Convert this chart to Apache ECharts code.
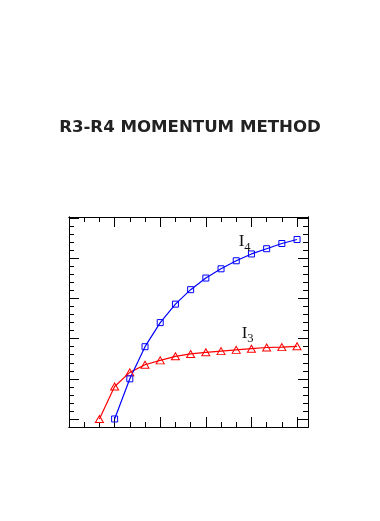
<!DOCTYPE html>
<html><head><meta charset="utf-8">
<script src="https://cdn.jsdelivr.net/npm/echarts@6/dist/echarts.min.js"></script>
<style>html,body{margin:0;padding:0;background:#fff}#c{width:380px;height:521px}</style>
</head><body><div id="c"></div>
<script>
const titleText = 'R3-R4 MOMENTUM METHOD';
const xI3 = [2,3,4,5,6,7,8,9,10,11,12,13,14,15];
const yI3 = [0,0.81,1.16,1.35,1.46,1.56,1.62,1.66,1.69,1.72,1.75,1.78,1.79,1.81];
const xI4 = [3,4,5,6,7,8,9,10,11,12,13,14,15];
const yI4 = [0,1.0,1.80,2.40,2.86,3.22,3.51,3.74,3.94,4.11,4.24,4.37,4.47];
const xMajor = [0,3,6,9,12,15];
const xMinor = [1,2,4,5,7,8,10,11,13,14];
const yMajor = [0,1,2,3,4,5];
const yMinor = [-0.2,0.2,0.4,0.6,0.8,1.2,1.4,1.6,1.8,2.2,2.4,2.6,2.8,3.2,3.4,3.6,3.8,4.2,4.4,4.6,4.8];
const labelI4 = {coord:[11.55,4.42], sub:'4'};
const labelI3 = {coord:[11.75,2.15], sub:'3'};

const XMIN=0, XMAX=15.72, YMIN=-0.2, YMAX=5.03;
function xa(pos, vals, len){
  return {type:'value', position:pos, min:XMIN, max:XMAX,
    axisLine:{show:true, onZero:false, lineStyle:{color:'#000', width:1}},
    axisTick:{show:true, inside:true, length:len, customValues:vals, lineStyle:{color:'#000', width:1}},
    axisLabel:{show:false}, splitLine:{show:false}};
}
function ya(pos, vals, len){
  return {type:'value', position:pos, min:YMIN, max:YMAX,
    axisLine:{show:true, onZero:false, lineStyle:{color:'#000', width:1}},
    axisTick:{show:true, inside:true, length:len, customValues:vals, lineStyle:{color:'#000', width:1}},
    axisLabel:{show:false}, splitLine:{show:false}};
}
function mp(l){
  return {symbol:'circle', symbolSize:0, data:[{coord:l.coord}],
    label:{show:true, position:'inside', fontFamily:'Liberation Serif', fontSize:17, formatter:'{i|I}{s|'+l.sub+'}',
      rich:{i:{fontFamily:'Liberation Serif', fontSize:17, color:'#111', verticalAlign:'bottom', lineHeight:18},
            s:{fontFamily:'Liberation Serif', fontSize:12.5, color:'#111', verticalAlign:'bottom', lineHeight:12, padding:[0,0,-4,0]}}}};
}
const chart = echarts.init(document.getElementById('c'), null, {renderer:'canvas'});
chart.setOption({
  animation:false,
  backgroundColor:'#fff',
  title:{text:titleText, left:'center', top:114,
    textStyle:{fontFamily:'DejaVu Sans', fontWeight:'bold', fontSize:16.6, color:'#222'}},
  grid:{left:69, right:72, top:217, bottom:94},
  xAxis:[xa('bottom',xMajor,10), xa('bottom',xMinor,5), xa('top',xMajor,10), xa('top',xMinor,5)],
  yAxis:[ya('left',yMajor,10), ya('left',yMinor,5), ya('right',yMajor,10), ya('right',yMinor,5)],
  series:[
    {type:'line', name:'I3', data:xI3.map((x,i)=>[x,yI3[i]]), symbol:'triangle', symbolSize:[8,7],
      lineStyle:{color:'#ff0000', width:1.2}, itemStyle:{color:'transparent', borderColor:'#ff0000', borderWidth:1}, markPoint:mp(labelI3)},
    {type:'line', name:'I4', data:xI4.map((x,i)=>[x,yI4[i]]), symbol:'rect', symbolSize:6,
      lineStyle:{color:'#0000ff', width:1.2}, itemStyle:{color:'transparent', borderColor:'#0000ff', borderWidth:1}, markPoint:mp(labelI4)}
  ]
});
</script></body></html>
